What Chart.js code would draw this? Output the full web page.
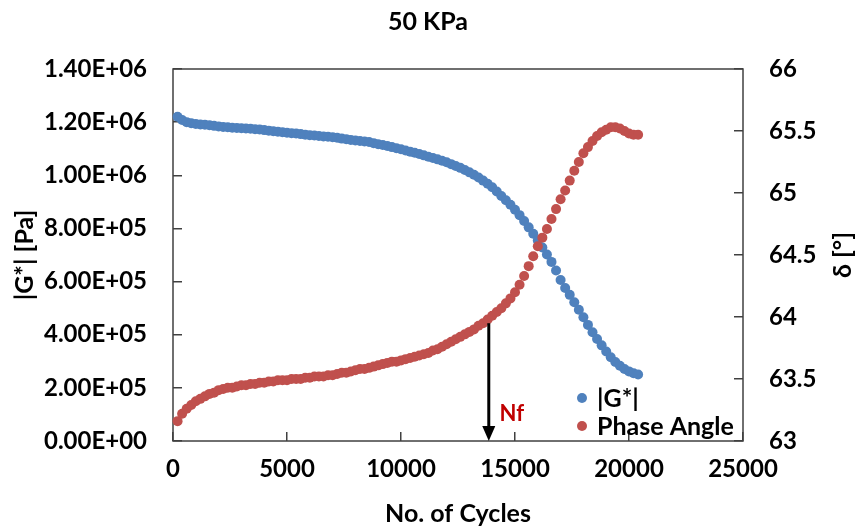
<!DOCTYPE html>
<html>
<head>
<meta charset="utf-8">
<script src="https://cdn.jsdelivr.net/npm/chart.js@4.4.0/dist/chart.umd.min.js"></script>
<style>
    html, body { margin: 0; padding: 0; background: #ffffff; }
</style>
</head>
<body>
<canvas id="myChart" width="856" height="530"></canvas>
<script>
const ctx = document.getElementById('myChart');

// number of cycles (x)
const cycles = [
    200, 400, 600, 800, 1000, 1200, 1400, 1600, 1800, 2000,
    2200, 2400, 2600, 2800, 3000, 3200, 3400, 3600, 3800, 4000,
    4200, 4400, 4600, 4800, 5000, 5200, 5400, 5600, 5800, 6000,
    6200, 6400, 6600, 6800, 7000, 7200, 7400, 7600, 7800, 8000,
    8200, 8400, 8600, 8800, 9000, 9200, 9400, 9600, 9800, 10000,
    10200, 10400, 10600, 10800, 11000, 11200, 11400, 11600, 11800, 12000,
    12200, 12400, 12600, 12800, 13000, 13200, 13400, 13600, 13800, 14000,
    14200, 14400, 14600, 14800, 15000, 15200, 15400, 15600, 15800, 16000,
    16200, 16400, 16600, 16800, 17000, 17200, 17400, 17600, 17800, 18000,
    18200, 18400, 18600, 18800, 19000, 19200, 19400, 19600, 19800, 20000,
    20200, 20400
];

// |G*| in Pa
const gStar = [
    1220000, 1208000, 1200000, 1196000, 1193000, 1191000, 1190000, 1188000, 1186000, 1184000,
    1182000, 1181000, 1179000, 1178000, 1177000, 1176000, 1175000, 1173000, 1172000, 1170000,
    1168000, 1166000, 1164000, 1162000, 1160000, 1158000, 1157000, 1155000, 1153000, 1151000,
    1150000, 1148000, 1146000, 1145000, 1143000, 1141000, 1138000, 1136000, 1133000, 1131000,
    1129000, 1127000, 1125000, 1121000, 1117000, 1114000, 1110000, 1106000, 1102000, 1098000,
    1093000, 1089000, 1085000, 1080000, 1075000, 1070000, 1065000, 1060000, 1055000, 1049000,
    1042000, 1035000, 1028000, 1020000, 1011000, 1002000, 992000, 980000, 968000, 955000,
    939000, 922000, 906000, 889000, 870000, 850000, 828000, 804000, 780000, 755000,
    728000, 702000, 674000, 642000, 606000, 576000, 550000, 522000, 494000, 466000,
    437000, 409000, 384000, 360000, 337000, 315000, 297000, 283000, 271000, 262000,
    255000, 250000
];

// phase angle in degrees
const phaseAngle = [
    63.16, 63.22, 63.26, 63.29, 63.32, 63.34, 63.36, 63.38, 63.39, 63.41,
    63.42, 63.43, 63.43, 63.44, 63.45, 63.45, 63.46, 63.46, 63.47, 63.47,
    63.48, 63.48, 63.49, 63.49, 63.49, 63.50, 63.50, 63.50, 63.51, 63.51,
    63.52, 63.52, 63.52, 63.53, 63.53, 63.54, 63.55, 63.55, 63.56, 63.57,
    63.58, 63.58, 63.59, 63.60, 63.61, 63.62, 63.63, 63.64, 63.64, 63.65,
    63.66, 63.67, 63.68, 63.69, 63.70, 63.71, 63.73, 63.74, 63.76, 63.78,
    63.80, 63.82, 63.84, 63.86, 63.88, 63.90, 63.93, 63.95, 63.98, 64.01,
    64.04, 64.07, 64.11, 64.15, 64.20, 64.26, 64.33, 64.41, 64.49, 64.57,
    64.64, 64.71, 64.79, 64.87, 64.95, 65.02, 65.10, 65.18, 65.25, 65.32,
    65.37, 65.42, 65.46, 65.49, 65.51, 65.53, 65.53, 65.52, 65.50, 65.48,
    65.47, 65.47
];

// Nf marker: arrow from the phase angle curve down to the x axis
const nfCycles = 13850;
const nfPhase = 63.95;

const FONT = 'Lato, "Liberation Sans", sans-serif';
const AXIS_COLOR = '#404040';

function toSci(v) {
    if (v === 0) return '0.00E+00';
    let exp = Math.floor(Math.log10(v) + 1e-9);
    let mant = v / Math.pow(10, exp);
    return mant.toFixed(2) + 'E+' + String(exp).padStart(2, '0');
}

let gPoints = [];
let pPoints = [];
for (let i = 0; i < cycles.length; i++) {
    gPoints.push({ x: cycles[i], y: gStar[i] });
    pPoints.push({ x: cycles[i], y: phaseAngle[i] });
}

const plotBox = {
    id: 'plotBox',
    beforeDatasetsDraw(chart) {
        const a = chart.chartArea;
        const c = chart.ctx;
        c.save();
        c.strokeStyle = AXIS_COLOR;
        c.lineWidth = 1.5;
        c.strokeRect(a.left, a.top, a.right - a.left, a.bottom - a.top);
        c.restore();
    }
};

const nfArrow = {
    id: 'nfArrow',
    afterDatasetsDraw(chart) {
        const c = chart.ctx;
        const x = chart.scales.x.getPixelForValue(nfCycles);
        const yTop = chart.scales.y2.getPixelForValue(nfPhase);
        const yBot = chart.chartArea.bottom;
        c.save();
        c.strokeStyle = '#000';
        c.fillStyle = '#000';
        c.lineWidth = 3;
        c.beginPath();
        c.moveTo(x, yTop);
        c.lineTo(x, yBot - 12);
        c.stroke();
        c.beginPath();
        c.moveTo(x - 6.5, yBot - 15);
        c.lineTo(x + 6.5, yBot - 15);
        c.lineTo(x, yBot);
        c.closePath();
        c.fill();
        c.fillStyle = '#C00000';
        c.font = 'bold 22px ' + FONT;
        c.textAlign = 'center';
        c.textBaseline = 'middle';
        c.fillText('Nf', x + 23, yBot - 27);
        c.restore();
    }
};

const sideBits = {
    id: 'sideBits',
    afterDraw(chart) {
        const c = chart.ctx;
        const a = chart.chartArea;
        c.save();
        // legend inside the plot, bottom right
        const rows = [a.bottom - 43, a.bottom - 15];
        chart.data.datasets.forEach(function (ds, i) {
            c.fillStyle = ds.backgroundColor;
            c.beginPath();
            c.arc(a.right - 161, rows[i], 5, 0, Math.PI * 2);
            c.fill();
            c.fillStyle = '#000';
            c.font = 'bold 25px ' + FONT;
            c.textAlign = 'left';
            c.textBaseline = 'middle';
            c.fillText(ds.label, a.right - 146, rows[i] + 1);
        });
        // right axis title, reading bottom to top
        c.translate(843, (a.top + a.bottom) / 2);
        c.rotate(-Math.PI / 2);
        c.fillStyle = '#000';
        c.font = 'bold 25px ' + FONT;
        c.textAlign = 'center';
        c.textBaseline = 'middle';
        c.fillText('δ [°]', 0, 0);
        c.restore();
    }
};

new Chart(ctx, {
    type: 'scatter',
    data: {
        datasets: [
            {
                label: '|G*|',
                data: gPoints,
                yAxisID: 'y',
                backgroundColor: '#4F81BD',
                pointRadius: 5,
                pointBorderWidth: 0,
                order: 1
            },
            {
                label: 'Phase Angle',
                data: pPoints,
                yAxisID: 'y2',
                backgroundColor: '#C0504D',
                pointRadius: 5,
                pointBorderWidth: 0,
                order: 0
            }
        ]
    },
    options: {
        responsive: false,
        animation: false,
        clip: false,
        layout: { padding: 0 },
        plugins: {
            legend: { display: false },
            tooltip: { enabled: false },
            title: {
                display: true,
                text: '50 KPa',
                color: '#000',
                font: { family: FONT, size: 25, weight: 'bold' },
                padding: { top: 7, bottom: 32 }
            }
        },
        scales: {
            x: {
                type: 'linear',
                position: 'bottom',
                min: 0,
                max: 25000,
                afterFit: function (scale) { scale.height = 89; },
                ticks: {
                    stepSize: 5000,
                    color: '#000',
                    padding: 23,
                    maxRotation: 0,
                    font: { family: FONT, size: 24, weight: 'bold' },
                    callback: function (v) { return String(v); }
                },
                grid: { drawOnChartArea: false, tickLength: -9, color: AXIS_COLOR, lineWidth: 1.5 },
                border: { display: false },
                title: {
                    display: true,
                    text: 'No. of Cycles',
                    color: '#000',
                    font: { family: FONT, size: 25, weight: 'bold' },
                    padding: { top: 1, bottom: 1 }
                }
            },
            y: {
                type: 'linear',
                position: 'left',
                min: 0,
                max: 1400000,
                afterFit: function (scale) { scale.width = 173; },
                ticks: {
                    stepSize: 200000,
                    color: '#000',
                    padding: 35,
                    font: { family: FONT, size: 24, weight: 'bold' },
                    callback: function (v) { return toSci(v); }
                },
                grid: { drawOnChartArea: false, tickLength: -9, color: AXIS_COLOR, lineWidth: 1.5 },
                border: { display: false },
                title: {
                    display: true,
                    text: '|G*| [Pa]',
                    color: '#000',
                    font: { family: FONT, size: 25, weight: 'bold' },
                    padding: { top: 10, bottom: 10 }
                }
            },
            y2: {
                type: 'linear',
                position: 'right',
                min: 63,
                max: 66,
                afterFit: function (scale) { scale.width = 113; },
                ticks: {
                    stepSize: 0.5,
                    color: '#000',
                    padding: 35,
                    font: { family: FONT, size: 24, weight: 'bold' },
                    callback: function (v) { return String(v); }
                },
                grid: { drawOnChartArea: false, tickLength: -9, color: AXIS_COLOR, lineWidth: 1.5 },
                border: { display: false }
            }
        }
    },
    plugins: [plotBox, nfArrow, sideBits]
});
</script>
</body>
</html>
